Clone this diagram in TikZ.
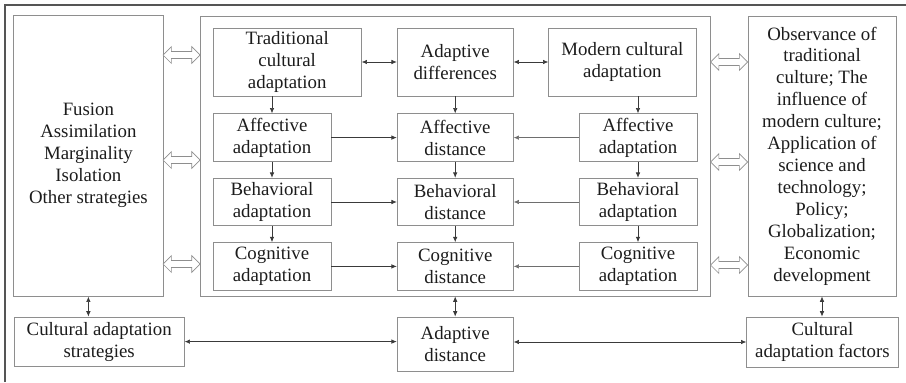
\documentclass[tikz,border=0pt]{standalone}
\usepackage{fontspec}
\setmainfont{Liberation Serif}
\newfontfamily\diagfont{Liberation Serif}
\usetikzlibrary{positioning,arrows.meta,shapes.arrows,calc}
\definecolor{boxgray}{HTML}{8E8E8E}
\definecolor{arrgray}{HTML}{3A3A3A}
\definecolor{lightarr}{HTML}{6E6E6E}
\definecolor{framegray}{HTML}{555555}
\definecolor{txtgray}{HTML}{1C1C1C}

\begin{document}
\begin{tikzpicture}[
    >=Latex,
    box/.style={draw=boxgray, line width=0.6pt, align=center, inner sep=1pt,
                text=txtgray, font=\diagfont\fontsize{13.4}{15.6}\selectfont},
    leftbox/.style={box, minimum width=2.95cm, minimum height=1.19cm},
    midbox/.style={box, minimum width=2.9cm, minimum height=1.19cm},
    hollow/.style={double arrow, draw=boxgray, fill=white, line width=0.5pt,
                minimum height=0.93cm, minimum width=0.40cm, inner xsep=0pt,
                inner ysep=0.08cm, double arrow head extend=0.12cm},
    arr/.style={-{Latex[length=3.8pt,width=3.2pt]}, line width=0.5pt, color=arrgray},
    darr/.style={{Latex[length=3.8pt,width=3.2pt]}-{Latex[length=3.8pt,width=3.2pt]},
                line width=0.5pt, color=arrgray},
  ]
  \useasboundingbox (0,0) rectangle (22.65,-9.55);
  % --- outer frame (top and left edge only) ---
  \draw[framegray, line width=0.8pt] (0.125,-9.55) -- (0.125,-0.125) -- (22.65,-0.125);

  % --- big side boxes and the central container ---
  \node[box, minimum width=3.73cm, minimum height=7.03cm] (lst) at (2.21,-3.89)
        {Fusion\\Assimilation\\Marginality\\Isolation\\Other strategies};
  \node[box, minimum width=12.75cm, minimum height=7.0cm] (core) at (11.38,-3.90) {};
  \node[box, minimum width=3.70cm, minimum height=7.0cm] (fac) at (20.55,-3.90)
        {Observance of\\traditional\\culture; The\\influence of\\modern culture;\\Application of\\science and\\technology;\\Policy;\\Globalization;\\Economic\\development};

  % --- top row ---
  \node[box, minimum width=3.70cm, minimum height=1.70cm] (trad)   at (7.18,-1.55)  {Traditional\\cultural\\adaptation};
  \node[box, minimum width=2.90cm, minimum height=1.70cm] (adiff)  at (11.38,-1.55) {Adaptive\\differences};
  \node[box, minimum width=3.68cm, minimum height=1.70cm] (modern) at (15.56,-1.55) {Modern cultural\\adaptation};

  % --- three rows: adaptation | distance | adaptation ---
  \node[leftbox] (laff) at (6.80,-3.44) {Affective\\adaptation};
  \node[leftbox] (lbeh) at (6.80,-5.05) {Behavioral\\adaptation};
  \node[leftbox] (lcog) at (6.80,-6.66) {Cognitive\\adaptation};
  \node[midbox]  (maff) at (11.38,-3.44) {Affective\\distance};
  \node[midbox]  (mbeh) at (11.38,-5.05) {Behavioral\\distance};
  \node[midbox]  (mcog) at (11.38,-6.66) {Cognitive\\distance};
  \node[leftbox] (raff) at (15.95,-3.44) {Affective\\adaptation};
  \node[leftbox] (rbeh) at (15.95,-5.05) {Behavioral\\adaptation};
  \node[leftbox] (rcog) at (15.95,-6.66) {Cognitive\\adaptation};

  % --- bottom row ---
  \node[box, minimum width=4.25cm, minimum height=1.23cm] (strat) at (2.48,-8.54)  {Cultural adaptation\\strategies};
  \node[box, minimum width=2.90cm, minimum height=1.35cm] (adist) at (11.38,-8.60) {Adaptive\\distance};
  \node[box, minimum width=3.78cm, minimum height=1.25cm] (fact)  at (20.56,-8.55) {Cultural\\adaptation factors};

  % --- hollow double arrows between side boxes and container ---
  \path (lst.east |- 0,-1.375) -- node[hollow] (hl1) {} (core.west |- 0,-1.375);
  \path (lst.east |- 0,-4.0)   -- node[hollow] (hl2) {} (core.west |- 0,-4.0);
  \path (lst.east |- 0,-6.6)   -- node[hollow] (hl3) {} (core.west |- 0,-6.6);
  \path (core.east |- 0,-1.55) -- node[hollow] (hr1) {} (fac.west |- 0,-1.55);
  \path (core.east |- 0,-4.05) -- node[hollow] (hr2) {} (fac.west |- 0,-4.05);
  \path (core.east |- 0,-6.625)-- node[hollow] (hr3) {} (fac.west |- 0,-6.625);

  % --- top row links ---
  \draw[darr] (trad) -- (adiff);
  \draw[darr] (adiff) -- (modern);

  % --- down the columns ---
  \draw[arr] (trad.south -| laff) -- (laff);
  \draw[arr] (laff) -- (lbeh);
  \draw[arr] (lbeh) -- (lcog);
  \draw[arr] (adiff) -- (maff);
  \draw[arr] (maff) -- (mbeh);
  \draw[arr] (mbeh) -- (mcog);
  \draw[arr] (modern.south -| raff) -- (raff);
  \draw[arr] (raff) -- (rbeh);
  \draw[arr] (rbeh) -- (rcog);

  % --- into the distance column ---
  \draw[arr] (laff) -- (maff);
  \draw[arr] (lbeh) -- (mbeh);
  \draw[arr] (lcog) -- (mcog);
  \draw[arr, color=lightarr] (raff) -- (maff);
  \draw[arr, color=lightarr] (rbeh) -- (mbeh);
  \draw[arr, color=lightarr] (rcog) -- (mcog);

  % --- to the bottom row ---
  \draw[darr] (lst.south) -- (lst.south |- strat.north);
  \draw[darr] (core.south) -- (adist.north);
  \draw[darr] (fac.south) -- (fac.south |- fact.north);
  \draw[darr] (strat.east) -- (strat.east -| adist.west);
  \draw[darr] (fact.west -| adist.east) -- (fact.west);
\end{tikzpicture}
\end{document}
